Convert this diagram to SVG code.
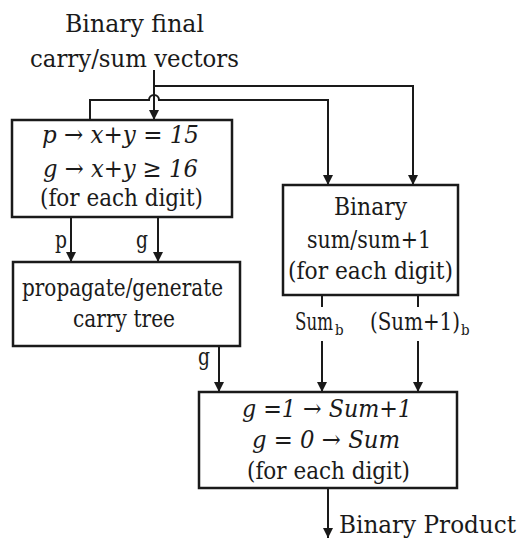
<svg xmlns="http://www.w3.org/2000/svg" width="519" height="540" viewBox="0 0 519 540">
<style>
text{font-family:"DejaVu Serif Condensed","DejaVu Serif",serif;font-stretch:condensed;font-size:25px;fill:#1a1a1a}
.c{text-anchor:middle}
.i{font-style:italic}
.s{font-size:15px}
.box{fill:#fff;stroke:#1a1a1a;stroke-width:2.5}
.ln{fill:none;stroke:#1a1a1a;stroke-width:2}
</style>
<defs>
<marker id="ah" viewBox="0 0 10 10" refX="10" refY="5" markerWidth="10" markerHeight="10" markerUnits="userSpaceOnUse" orient="auto">
<path d="M0,0 L10,5 L0,10 Z" fill="#1a1a1a"/>
</marker>
</defs>
<g id="title">
<text class="c" x="134.5" y="32" textLength="139" lengthAdjust="spacingAndGlyphs">Binary final</text>
<text class="c" x="134.5" y="67" textLength="209" lengthAdjust="spacingAndGlyphs">carry/sum vectors</text>
</g>
<g id="connectors">
<path class="ln" d="M154,70 V120" marker-end="url(#ah)"/>
<path class="ln" d="M154,86 H413 V185" marker-end="url(#ah)"/>
<path class="ln" d="M90,120 V100 H149 A5,5 0 0 1 159,100 H328 V185" marker-end="url(#ah)"/>
<path class="ln" d="M71,217 V262" marker-end="url(#ah)"/>
<path class="ln" d="M158,217 V262" marker-end="url(#ah)"/>
<path class="ln" d="M219,346 V392" marker-end="url(#ah)"/>
<path class="ln" d="M322,295 V307"/>
<path class="ln" d="M418,295 V307"/>
<path class="ln" d="M322,341 V392" marker-end="url(#ah)"/>
<path class="ln" d="M418,341 V392" marker-end="url(#ah)"/>
<path class="ln" d="M328,488 V538" marker-end="url(#ah)"/>
<text x="55" y="248" textLength="12" lengthAdjust="spacingAndGlyphs">p</text>
<text x="136" y="248" textLength="12" lengthAdjust="spacingAndGlyphs">g</text>
<text x="198" y="365" textLength="12" lengthAdjust="spacingAndGlyphs">g</text>
<text x="295" y="330"><tspan textLength="38" lengthAdjust="spacingAndGlyphs">Sum</tspan><tspan class="s" x="335" dy="5">b</tspan></text>
<text x="370" y="330"><tspan textLength="90" lengthAdjust="spacingAndGlyphs">(Sum+1)</tspan><tspan class="s" x="461" dy="5">b</tspan></text>
<text x="339" y="533" textLength="177" lengthAdjust="spacingAndGlyphs">Binary Product</text>
</g>
<g id="pg-detect">
<rect class="box" x="12" y="120" width="220" height="97"/>
<text class="c i" x="120.5" y="143" textLength="157" lengthAdjust="spacingAndGlyphs">p → x+y = 15</text>
<text class="c i" x="120.5" y="177" textLength="155" lengthAdjust="spacingAndGlyphs">g → x+y ≥ 16</text>
<text class="c" x="121.5" y="206" textLength="163" lengthAdjust="spacingAndGlyphs">(for each digit)</text>
</g>
<g id="carry-tree">
<rect class="box" x="13" y="262" width="227" height="84"/>
<text class="c" x="122.5" y="296" textLength="201" lengthAdjust="spacingAndGlyphs">propagate/generate</text>
<text class="c" x="124" y="327" textLength="102" lengthAdjust="spacingAndGlyphs">carry tree</text>
</g>
<g id="sum-box">
<rect class="box" x="283" y="185" width="175" height="110"/>
<text class="c" x="370.5" y="215" textLength="73" lengthAdjust="spacingAndGlyphs">Binary</text>
<text class="c" x="369" y="248" textLength="124" lengthAdjust="spacingAndGlyphs">sum/sum+1</text>
<text class="c" x="370.5" y="279" textLength="165" lengthAdjust="spacingAndGlyphs">(for each digit)</text>
</g>
<g id="select-box">
<rect class="box" x="199" y="392" width="258" height="96"/>
<text class="c i" x="327" y="417" textLength="170" lengthAdjust="spacingAndGlyphs">g =1 → Sum+1</text>
<text class="c i" x="326" y="448" textLength="148" lengthAdjust="spacingAndGlyphs">g = 0 → Sum</text>
<text class="c" x="328.5" y="479" textLength="163" lengthAdjust="spacingAndGlyphs">(for each digit)</text>
</g>
</svg>
